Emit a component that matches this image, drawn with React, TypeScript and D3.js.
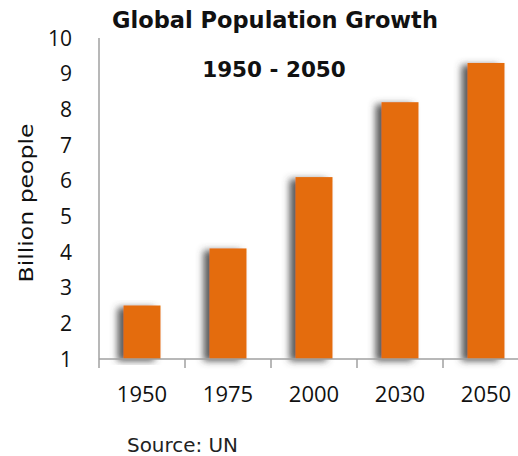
import { useEffect, useRef } from "react";
import * as d3 from "d3";

const years = ["1950", "1975", "2000", "2030", "2050"];
const population = [2.5, 4.1, 6.1, 8.2, 9.3];
const yTicks = [1, 2, 3, 4, 5, 6, 7, 8, 9, 10];

const W = 518;
const H = 456;

export default function App() {
  const ref = useRef<SVGSVGElement>(null);

  useEffect(() => {
    document.body.style.margin = "0";
    const svg = d3.select(ref.current);
    svg.selectAll("*").remove();

    const x = d3.scaleBand().domain(years).range([99, 529]).paddingInner(0.57).paddingOuter(0.285);
    const y = d3.scaleLinear().domain([1, 10]).range([359, 38]);

    const defs = svg.append("defs");
    const f = defs
      .append("filter")
      .attr("id", "shadow")
      .attr("x", "-60%")
      .attr("y", "-10%")
      .attr("width", "220%")
      .attr("height", "120%");
    f.append("feDropShadow")
      .attr("dx", -6)
      .attr("dy", 2)
      .attr("stdDeviation", 3.5)
      .attr("flood-color", "#4a4a4a")
      .attr("flood-opacity", 0.9);

    const axisColor = "#a0a0a0";

    // bars
    svg
      .append("g")
      .selectAll("rect")
      .data(population)
      .enter()
      .append("rect")
      .attr("x", (_, i) => x(years[i]) as number)
      .attr("width", x.bandwidth())
      .attr("y", (d) => y(d))
      .attr("height", (d) => y(1) - y(d))
      .attr("fill", "#e46c0a")
      .attr("filter", "url(#shadow)");

    // y axis line
    svg
      .append("line")
      .attr("x1", 99)
      .attr("x2", 99)
      .attr("y1", y(10))
      .attr("y2", y(1))
      .attr("stroke", axisColor)
      .attr("stroke-width", 1.5);

    // x axis line + ticks at category boundaries
    svg
      .append("line")
      .attr("x1", 99)
      .attr("x2", 529)
      .attr("y1", y(1))
      .attr("y2", y(1))
      .attr("stroke", axisColor)
      .attr("stroke-width", 1.5);

    const bounds = years.map((d) => (x(d) as number) - x.step() * x.paddingOuter());
    svg
      .append("g")
      .selectAll("line")
      .data(bounds)
      .enter()
      .append("line")
      .attr("x1", (d) => d)
      .attr("x2", (d) => d)
      .attr("y1", y(1))
      .attr("y2", y(1) + 9)
      .attr("stroke", axisColor)
      .attr("stroke-width", 1.5);

    // y tick labels
    svg
      .append("g")
      .selectAll("text")
      .data(yTicks)
      .enter()
      .append("text")
      .attr("x", 72)
      .attr("y", (d) => y(d))
      .attr("dy", "0.36em")
      .attr("text-anchor", "end")
      .style("font-family", "Open Sans")
      .style("font-size", "21px")
      .attr("fill", "#111")
      .text((d) => d);

    // x tick labels
    svg
      .append("g")
      .selectAll("text")
      .data(years)
      .enter()
      .append("text")
      .attr("x", (d) => (x(d) as number) + x.bandwidth() / 2)
      .attr("y", 402)
      .attr("text-anchor", "middle")
      .style("font-family", "Open Sans")
      .style("font-size", "22px")
      .attr("fill", "#111")
      .text((d) => d);

    // y axis title
    svg
      .append("text")
      .attr("transform", `translate(33, 203) rotate(-90)`)
      .attr("text-anchor", "middle")
      .attr("textLength", 159)
      .attr("lengthAdjust", "spacingAndGlyphs")
      .style("font-family", "DejaVu Sans")
      .style("font-size", "20px")
      .attr("fill", "#111")
      .text("Billion people");

    // titles
    svg
      .append("text")
      .attr("x", 275)
      .attr("y", 28)
      .attr("text-anchor", "middle")
      .style("font-family", "DejaVu Sans")
      .style("font-weight", "bold")
      .style("font-size", "22.5px")
      .attr("fill", "#111")
      .text("Global Population Growth");

    svg
      .append("text")
      .attr("x", 274)
      .attr("y", 77)
      .attr("text-anchor", "middle")
      .style("font-family", "DejaVu Sans")
      .style("font-weight", "bold")
      .style("font-size", "21.5px")
      .attr("fill", "#111")
      .text("1950 - 2050");

    svg
      .append("text")
      .attr("x", 127)
      .attr("y", 452)
      .attr("textLength", 111)
      .attr("lengthAdjust", "spacingAndGlyphs")
      .style("font-family", "DejaVu Sans")
      .style("font-size", "19px")
      .attr("fill", "#222")
      .text("Source: UN");
  }, []);

  return <svg ref={ref} width={W} height={H} style={{ display: "block", background: "#fff" }} />;
}
